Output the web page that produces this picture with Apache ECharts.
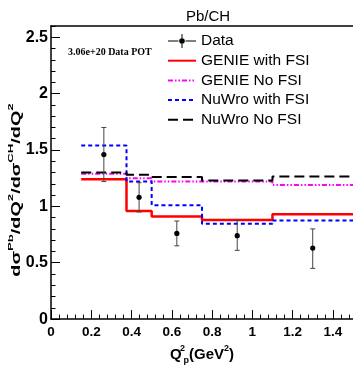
<!DOCTYPE html>
<html>
<head>
<meta charset="utf-8">
<script src="https://cdn.jsdelivr.net/npm/echarts@6/dist/echarts.min.js"></script>
<style>
  html, body { margin: 0; padding: 0; background: #fff; }
  #chart { width: 353px; height: 370px; }
</style>
</head>
<body>
<div id="chart"></div>
<script>
// Q^2_p bin edges (GeV^2) shared by all model histograms
const binEdges = [0.15, 0.375, 0.5, 0.75, 1.1, 1.5];

// Pb/CH cross-section ratio per bin for each generator prediction
const genieFsi   = [1.24, 0.96, 0.91, 0.88, 0.93];
const genieNoFsi = [1.29, 1.25, 1.22, 1.22, 1.19];
const nuwroFsi   = [1.54, 1.22, 1.01, 0.845, 0.875];
const nuwroNoFsi = [1.30, 1.28, 1.26, 1.23, 1.265];

// Measured ratio with its error band
const dataX    = [0.2625, 0.4375, 0.625, 0.925, 1.3];
const dataY    = [1.46, 1.08, 0.76, 0.74, 0.63];
const dataLow  = [1.22, 0.95, 0.65, 0.61, 0.45];
const dataHigh = [1.70, 1.21, 0.87, 0.875, 0.80];

const seriesNames = ['Data', 'GENIE with FSI', 'GENIE No FSI', 'NuWro with FSI', 'NuWro No FSI'];

// Axis ranges and tick spacing
const xRange = [0, 1.5];
const yRange = [0, 2.6];
const xMajor = 0.2, xMinor = 0.04;
const yMajor = 0.5, yMinor = 0.1;

const FONT = 'Liberation Sans, Arial, Helvetica, sans-serif';

// Histogram outline: each value holds from its lower edge to the next edge
function histPoints(vals) {
  const pts = vals.map((v, i) => [binEdges[i], v]);
  pts.push([binEdges[binEdges.length - 1], vals[vals.length - 1]]);
  return pts;
}

function onGrid(v, step) {
  return Math.abs(v / step - Math.round(v / step)) < 1e-6;
}

const chart = echarts.init(document.getElementById('chart'), null, { renderer: 'canvas' });

const histStyle = (color, width, dash) => ({
  type: 'line',
  step: 'end',
  symbol: 'none',
  xAxisIndex: 0,
  yAxisIndex: 0,
  itemStyle: { color: color },
  lineStyle: { color: color, width: width, type: dash },
  emphasis: { disabled: true },
  animation: false
});

// Legend entries for the histograms show only the line sample
const lineLegend = name => ({ name: name, itemStyle: { opacity: 0 } });

const option = {
  animation: false,
  backgroundColor: '#fff',
  title: {
    text: 'Pb/CH',
    left: 203,
    textAlign: 'center',
    top: 4,
    textStyle: { fontFamily: FONT, fontSize: 15, fontWeight: 'normal', color: '#000' }
  },
  grid: { left: 51, top: 26, width: 305, height: 300 },
  legend: {
    orient: 'vertical',
    left: 167,
    top: 33,
    padding: 0,
    itemWidth: 28,
    itemHeight: 14,
    itemGap: 3.7,
    textStyle: { fontFamily: FONT, fontSize: 15.5, color: '#000', padding: [0, 0, 0, 0] },
    data: [
      { name: seriesNames[0], icon: 'path://M0,6.5H10.5V7.5H0Z M17.5,6.5H28V7.5H17.5Z M13.5,0H14.5V4.5H13.5Z M13.5,9.5H14.5V14H13.5Z M16.8,7A2.8,2.8 0 1 1 11.2,7A2.8,2.8 0 1 1 16.8,7Z', itemStyle: { color: '#000' } },
      lineLegend(seriesNames[1]), lineLegend(seriesNames[2]), lineLegend(seriesNames[3]), lineLegend(seriesNames[4])
    ]
  },
  xAxis: [
    {
      type: 'value', min: xRange[0], max: xRange[1], interval: xMajor, position: 'bottom',
      axisLine: { show: true, onZero: false, lineStyle: { color: '#000', width: 1.5 } },
      axisTick: { show: true, inside: true, length: 9, lineStyle: { color: '#000', width: 1 } },
      axisLabel: {
        show: true, margin: 6, showMaxLabel: false,
        fontFamily: FONT, fontSize: 13.5, fontWeight: 'bold', color: '#000',
        formatter: v => onGrid(v, xMajor) ? String(+v.toFixed(1)) : ''
      },
      splitLine: { show: false },
      name: '{b|Q}{sup|2}{sub|p}{b|(GeV}{sup2|2}{b|)}',
      nameLocation: 'middle',
      nameGap: 20,
      nameTextStyle: {
        rich: {
          b: { fontFamily: FONT, fontSize: 15, fontWeight: 'bold', color: '#000', lineHeight: 18, verticalAlign: 'bottom' },
          sup: { fontFamily: FONT, fontSize: 9, fontWeight: 'bold', color: '#000', lineHeight: 18, verticalAlign: 'top', width: 0, padding: [0, 0, 0, 1] },
          sub: { fontFamily: FONT, fontSize: 9, fontWeight: 'bold', color: '#000', lineHeight: 18, verticalAlign: 'bottom', padding: [0, 0, -3, 1] },
          sup2: { fontFamily: FONT, fontSize: 9, fontWeight: 'bold', color: '#000', lineHeight: 18, verticalAlign: 'top' }
        }
      }
    },
    {
      type: 'value', min: xRange[0], max: xRange[1], interval: xMinor, position: 'bottom',
      axisLine: { show: false, onZero: false },
      axisTick: { show: true, inside: true, length: 4.5, lineStyle: { color: '#000', width: 1 } },
      axisLabel: { show: false },
      splitLine: { show: false }
    },
    {
      type: 'value', min: xRange[0], max: xRange[1], position: 'top',
      axisLine: { show: true, onZero: false, lineStyle: { color: '#000', width: 1.5 } },
      axisTick: { show: false },
      axisLabel: { show: false },
      splitLine: { show: false }
    }
  ],
  yAxis: [
    {
      type: 'value', min: yRange[0], max: yRange[1], interval: yMajor, position: 'left',
      axisLine: { show: true, onZero: false, lineStyle: { color: '#000', width: 1.5 } },
      axisTick: { show: true, inside: true, length: 9, lineStyle: { color: '#000', width: 1 } },
      axisLabel: {
        show: true, margin: 3, showMaxLabel: false,
        fontFamily: FONT, fontSize: 16, fontWeight: 'bold', color: '#000',
        formatter: v => onGrid(v, yMajor) ? String(+v.toFixed(1)) : ''
      },
      splitLine: { show: false }
    },
    {
      type: 'value', min: yRange[0], max: yRange[1], interval: yMinor, position: 'left',
      axisLine: { show: false, onZero: false },
      axisTick: { show: true, inside: true, length: 4.5, lineStyle: { color: '#000', width: 1 } },
      axisLabel: { show: false },
      splitLine: { show: false }
    }
  ],
  graphic: [
    {
      type: 'text',
      left: 68, top: 47,
      style: { text: '3.06e+20 Data POT', font: 'bold 10px "Liberation Serif", "Times New Roman", serif', fill: '#000' }
    },
    {
      type: 'text',
      x: 15, y: 190,
      rotation: Math.PI / 2,
      scaleX: 1.65,
      style: {
        text: '{b|d\u03c3}{s|Pb}{b|/dQ}{s|2}{b|/d\u03c3}{s|CH}{b|/dQ}{s|2}',
        align: 'center',
        verticalAlign: 'middle',
        rich: {
          b: { font: 'bold 12px "Liberation Sans", Arial, sans-serif', fill: '#000', lineHeight: 16, verticalAlign: 'bottom' },
          s: { font: 'bold 8px "Liberation Sans", Arial, sans-serif', fill: '#000', lineHeight: 16, verticalAlign: 'top' }
        }
      }
    }
  ],
  series: [
    Object.assign(histStyle('#ff0000', 2.5, 'solid'), { name: seriesNames[1], data: histPoints(genieFsi), z: 3 }),
    Object.assign(histStyle('#ff00ff', 2, [5, 2, 1.5, 2, 1.5, 2]), { name: seriesNames[2], data: histPoints(genieNoFsi), z: 3 }),
    Object.assign(histStyle('#0000ff', 2, [4, 3]), { name: seriesNames[3], data: histPoints(nuwroFsi), z: 3 }),
    Object.assign(histStyle('#000000', 2, [10, 5]), { name: seriesNames[4], data: histPoints(nuwroNoFsi), z: 3 }),
    {
      name: seriesNames[0],
      type: 'custom',
      xAxisIndex: 0,
      yAxisIndex: 0,
      z: 4,
      data: dataX.map((x, i) => [x, dataY[i], dataLow[i], dataHigh[i]]),
      renderItem: function (params, api) {
        const x = api.value(0);
        const top = api.coord([x, api.value(3)]);
        const bot = api.coord([x, api.value(2)]);
        const mid = api.coord([x, api.value(1)]);
        const stroke = { stroke: '#444', lineWidth: 1 };
        return {
          type: 'group',
          children: [
            { type: 'line', shape: { x1: top[0], y1: top[1], x2: bot[0], y2: bot[1] }, style: stroke },
            { type: 'line', shape: { x1: top[0] - 2.5, y1: top[1], x2: top[0] + 2.5, y2: top[1] }, style: stroke },
            { type: 'line', shape: { x1: bot[0] - 2.5, y1: bot[1], x2: bot[0] + 2.5, y2: bot[1] }, style: stroke },
            { type: 'circle', shape: { cx: mid[0], cy: mid[1], r: 2.6 }, style: { fill: '#000' } }
          ]
        };
      },
      itemStyle: { color: '#000' },
      animation: false
    }
  ]
};

chart.setOption(option);
</script>
</body>
</html>
